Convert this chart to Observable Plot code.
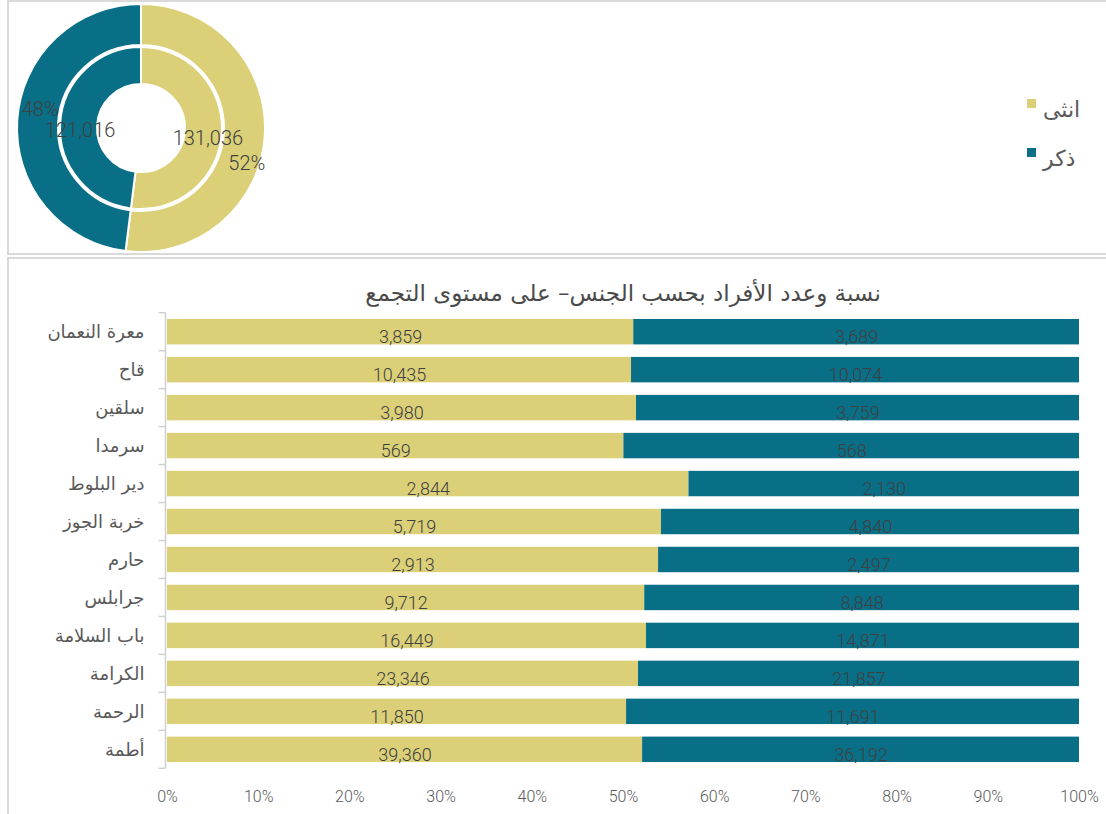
<!DOCTYPE html>
<html><head><meta charset="utf-8">
<script src="https://cdn.jsdelivr.net/npm/d3@7"></script>
<script src="https://cdn.jsdelivr.net/npm/@observablehq/plot@0.6"></script>
<style>
body{margin:0;width:1106px;height:814px;overflow:hidden;background:#fff;position:relative;font-family:Roboto,"DejaVu Sans",sans-serif;}
.panel{position:absolute;border:2px solid #d9d9d9;box-sizing:border-box;}
#p1{left:7px;top:0;width:1130px;height:255px;}
#p2{left:7px;top:257px;width:1130px;height:620px;}
#donut{position:absolute;left:0;top:0;}
#bars{position:absolute;left:0;top:300px;}
#title{position:absolute;left:167px;width:912px;top:279px;text-align:center;font-size:23px;line-height:28px;color:#4a4a4a;font-family:"DejaVu Sans",sans-serif;direction:rtl;}
.lg{position:absolute;left:1027px;display:flex;align-items:center;}
.sw{width:9px;height:9px;display:inline-block;}
.lt{position:absolute;left:1043px;font-size:22px;color:#595959;font-family:"DejaVu Sans",sans-serif;line-height:24px;}
</style></head>
<body>
<div id="p1" class="panel"></div>
<div id="p2" class="panel"></div>
<div id="donut"></div>
<div id="legend"></div>
<div id="title"></div>
<div id="bars"></div>
<script>
// ---- data ----
const sexes = ["انثى", "ذكر"];
const sexColors = ["#DBD078", "#096F87"];
const totals = [131036, 121016];
const places = ["معرة النعمان","قاح","سلقين","سرمدا","دير البلوط","خربة الجوز","حارم","جرابلس","باب السلامة","الكرامة","الرحمة","أطمة"];
const female = [3859,10435,3980,569,2844,5719,2913,9712,16449,23346,11850,39360];
const male   = [3689,10074,3759,568,2130,4840,2497,8848,14871,21857,11691,36192];
const xTicks = [0,0.1,0.2,0.3,0.4,0.5,0.6,0.7,0.8,0.9,1];
const titleText = "نسبة وعدد الأفراد بحسب الجنس– على مستوى التجمع";

document.getElementById("title").textContent = titleText;
const numFont = "Roboto, sans-serif";
const arFont = "'DejaVu Sans', sans-serif";
const fmt = d3.format(",");

// ---- donut ----
const grand = d3.sum(totals);
const pieData = d3.pie().sort(null).value(d => d.value)(sexes.map((s, i) => ({sex: s, value: totals[i], i})));
const rOuter = [83/124, 1];
const rInner = [44/124, 81/124];
const cent = (ring, d) => d3.arc().innerRadius(ring[0]).outerRadius(ring[1]).centroid(d);
const labels = pieData.map(d => ({
  outer: cent(rOuter, d), inner: cent(rInner, d),
  pct: Math.round(d.data.value / grand * 100) + "%", count: fmt(d.data.value)
}));

function donutMark(index, scales) {
  const cx = scales.x(0), cy = scales.y(0), r = scales.x(1) - scales.x(0);
  const g = d3.create("svg:g").attr("transform", `translate(${cx},${cy})`);
  for (const ring of [rOuter, rInner]) {
    const arc = d3.arc().innerRadius(ring[0] * r).outerRadius(ring[1] * r);
    g.append("g").selectAll("path").data(pieData).join("path")
      .attr("d", arc).attr("fill", d => sexColors[d.data.i])
      .attr("stroke", "#fff").attr("stroke-width", 2);
  }
  return g.node();
}
const labelOffsets = [{outer: [2, 29], inner: [4, 6]}, {outer: [2, -12], inner: [1, 6]}];
const lblStyle = {fontSize: 20, fontWeight: 300, fill: "#404040", fontFamily: numFont, letterSpacing: "-0.6px"};
const labelMarks = labels.flatMap((l, i) => [
  Plot.text([l], {x: d => d.outer[0], y: d => d.outer[1], text: d => d.pct, dx: labelOffsets[i].outer[0], dy: labelOffsets[i].outer[1], ...lblStyle}),
  Plot.text([l], {x: d => d.inner[0], y: d => d.inner[1], text: d => d.count, dx: labelOffsets[i].inner[0], dy: labelOffsets[i].inner[1], ...lblStyle})
]);
const donut = Plot.plot({
  width: 282, height: 256, margin: 0,
  x: {domain: [-1, 1], range: [141 - 124, 141 + 124], axis: null},
  y: {domain: [-1, 1], range: [128 - 124, 128 + 124], axis: null},
  style: {background: "transparent", overflow: "visible"},
  marks: [donutMark, ...labelMarks]
});
document.getElementById("donut").append(donut);

// legend
const legend = document.getElementById("legend");
sexes.forEach((s, i) => {
  const sw = document.createElement("div");
  sw.className = "lg"; sw.style.top = (99 + i * 49) + "px";
  sw.innerHTML = `<span class="sw" style="background:${sexColors[i]}"></span>`;
  legend.append(sw);
  const t = document.createElement("div");
  t.className = "lt"; t.style.top = (98 + i * 49) + "px"; t.textContent = s;
  legend.append(t);
});

// ---- stacked bars ----
const rows = places.flatMap((p, i) => [
  {place: p, sex: sexes[0], value: female[i]},
  {place: p, sex: sexes[1], value: male[i]}
]);
const H = 510, top0 = 12.7, bot0 = 468.3;
function yFrame(index, scales, values, dims) {
  const y = scales.y;
  const step = y.step(), bw = y.bandwidth();
  const x0 = dims.marginLeft - 1.5;
  const t = y(places[0]) - (step - bw) / 2;
  const g = d3.create("svg:g").attr("stroke", "#d0d0d0").attr("stroke-width", 1.5);
  g.append("line").attr("x1", x0).attr("x2", x0).attr("y1", t).attr("y2", t + step * places.length);
  for (let i = 0; i <= places.length; i++) {
    g.append("line").attr("x1", x0 - 7).attr("x2", x0).attr("y1", t + i * step).attr("y2", t + i * step);
  }
  return g.node();
}
const bars = Plot.plot({
  width: 1106, height: H, marginLeft: 167, marginRight: 27, marginTop: top0, marginBottom: H - bot0,
  style: {background: "transparent", overflow: "visible"},
  x: {domain: [0, 1]},
  y: {domain: places, paddingInner: 0.33, paddingOuter: 0.165, round: false},
  color: {domain: sexes, range: sexColors},
  marks: [
    Plot.barX(rows, Plot.stackX({x: "value", y: "place", fill: "sex", offset: "normalize", order: sexes})),
    Plot.text(rows, Plot.stackX({x: "value", y: "place", z: "sex", offset: "normalize", order: sexes,
      text: d => fmt(d.value), dy: 5, fill: "#404040", fontSize: 18, fontWeight: 300, fontFamily: numFont, letterSpacing: "-0.4px"})),
    yFrame,
    Plot.axisY({tickSize: 0, tickPadding: 23, fontSize: 18, fontFamily: arFont, fill: "#595959", label: null}),
    Plot.axisX({ticks: xTicks, tickFormat: d => Math.round(d * 100) + "%", tickSize: 0, tickPadding: 22, fontSize: 16, fontWeight: 300, fontFamily: numFont, fill: "#595959", label: null})
  ]
});
document.getElementById("bars").append(bars);
</script>
</body></html>
